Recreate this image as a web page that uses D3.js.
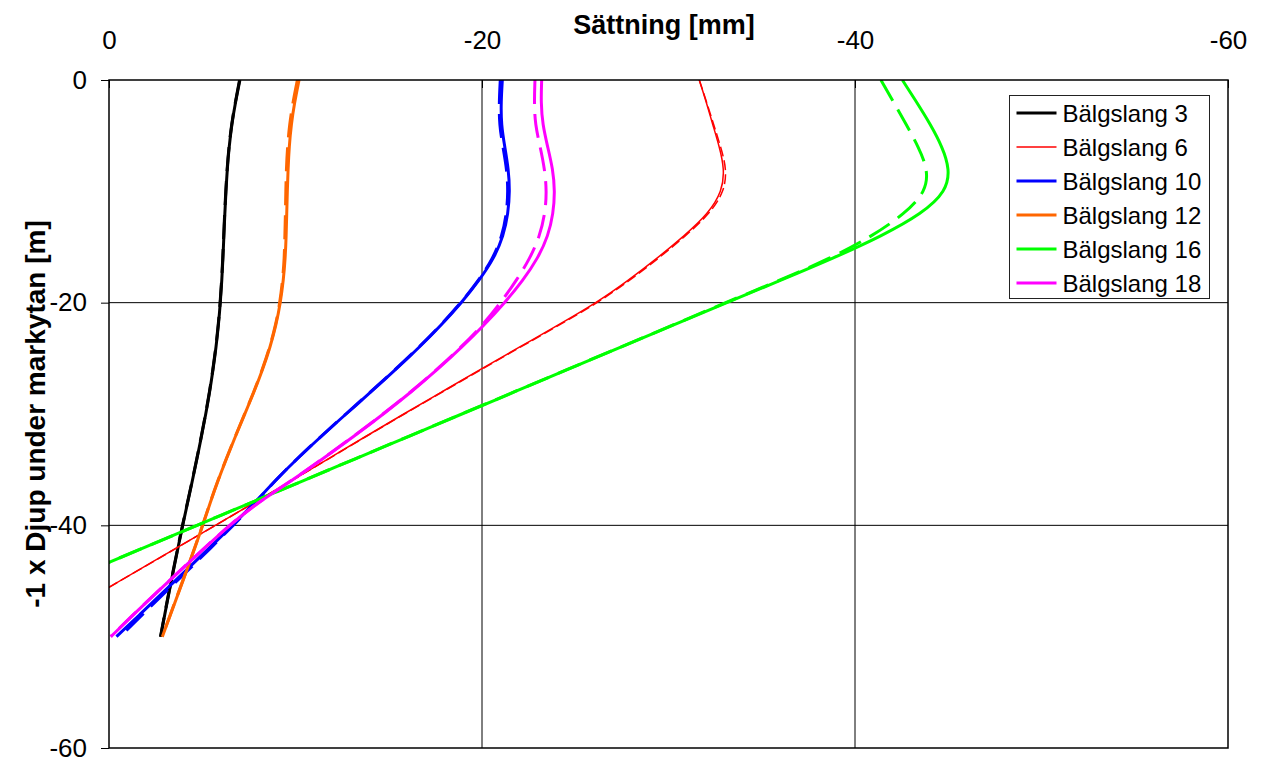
<!DOCTYPE html>
<html>
<head>
<meta charset="utf-8">
<script src="https://cdn.jsdelivr.net/npm/d3@7"></script>
<style>
  body { margin: 0; background: #fff; }
  svg { display: block; }
  text { font-family: "Liberation Sans", Arial, sans-serif; fill: #000; }
</style>
</head>
<body>
<svg id="chart" width="1265" height="762"></svg>
<script>
// Depth below ground surface (m, shown as -1 x depth)
const depths = [0, -2, -4, -6, -8, -10, -12, -14, -16, -18, -20, -22, -24, -26,
                -28, -30, -32, -34, -36, -38, -40, -42, -44, -46, -48, -50];

// Settlement [mm] per hose, two readings each (A = solid, B = dashed)
const b3A  = [-7.02, -6.78, -6.58, -6.44, -6.34, -6.27, -6.21, -6.16, -6.11, -6.05, -5.97, -5.87, -5.74, -5.58,
              -5.40, -5.19, -4.96, -4.72, -4.47, -4.21, -3.95, -3.70, -3.46, -3.22, -2.99, -2.77];
const b3B  = [-7.00, -6.77, -6.57, -6.43, -6.33, -6.26, -6.20, -6.15, -6.10, -6.04, -5.96, -5.86, -5.73, -5.57,
              -5.39, -5.18, -4.95, -4.71, -4.46, -4.20, -3.94, -3.69, -3.45, -3.21, -2.98, -2.76];

const b6A  = [-31.65, -32.03, -32.37, -32.73, -33.00, -32.88, -32.14, -30.85, -29.40, -27.85, -26.15, -24.10, -22.00, -19.92,
              -17.86, -15.80, -13.78, -11.78, -9.77, -7.75, -5.70, -3.65, -1.60, 0.45, null, null];
const b6B  = [-31.65, -32.05, -32.42, -32.80, -33.12, -33.00, -32.22, -30.92, -29.48, -27.92, -26.22, -24.16, -22.05, -19.96,
              -17.89, -15.83, -13.80, -11.80, -9.79, -7.76, -5.71, -3.66, -1.61, 0.45, null, null];

const b10A = [-21.09, -21.02, -21.03, -21.22, -21.42, -21.49, -21.40, -21.15, -20.65, -19.85, -18.90, -17.82, -16.64, -15.38,
              -14.06, -12.71, -11.38, -10.10, -8.90, -7.80, -6.62, -5.40, -4.16, -2.91, -1.66, -0.40];
const b10B = [-20.98, -20.92, -20.93, -21.12, -21.33, -21.40, -21.32, -21.08, -20.60, -19.82, -18.88, -17.80, -16.62, -15.36,
              -14.04, -12.70, -11.37, -10.09, -8.90, -7.82, -6.66, -5.48, -4.26, -3.02, -1.80, -0.60];

const b12A = [-10.19, -9.95, -9.77, -9.66, -9.60, -9.56, -9.53, -9.50, -9.45, -9.35, -9.19, -8.96, -8.64, -8.24,
              -7.78, -7.28, -6.78, -6.30, -5.84, -5.42, -5.03, -4.61, -4.18, -3.74, -3.30, -2.86];
const b12B = [-10.10, -9.86, -9.68, -9.57, -9.51, -9.48, -9.46, -9.43, -9.40, -9.31, -9.16, -8.94, -8.62, -8.22,
              -7.77, -7.27, -6.77, -6.29, -5.83, -5.41, -5.02, -4.60, -4.17, -3.73, -3.29, -2.85];

const b16A = [-42.54, -43.31, -44.05, -44.68, -45.08, -44.90, -43.60, -41.45, -38.85, -36.00, -33.12, -30.28, -27.44, -24.60,
              -21.76, -18.92, -16.08, -13.24, -10.40, -7.56, -4.72, -1.88, 0.96, null, null, null];
const b16B = [-41.39, -42.07, -42.75, -43.40, -43.90, -43.82, -42.67, -40.95, -38.70, -35.95, -33.05, -30.25, -27.42, -24.58,
              -21.75, -18.91, -16.07, -13.23, -10.40, -7.56, -4.72, -1.88, 0.96, null, null, null];

const b18A = [-23.20, -23.16, -23.25, -23.52, -23.80, -23.91, -23.82, -23.55, -23.00, -22.20, -21.22, -20.12, -18.92, -17.62,
              -16.22, -14.72, -13.14, -11.49, -9.79, -7.95, -6.45, -5.15, -3.86, -2.58, -1.32, -0.10];
const b18B = [-22.84, -22.80, -22.85, -23.12, -23.36, -23.47, -23.38, -23.10, -22.58, -21.85, -21.00, -20.05, -18.88, -17.59,
              -16.20, -14.70, -13.12, -11.47, -9.78, -7.94, -6.44, -5.14, -3.85, -2.57, -1.31, -0.09];

const seriesNames  = ["Bälgslang 3", "Bälgslang 6", "Bälgslang 10", "Bälgslang 12", "Bälgslang 16", "Bälgslang 18"];
const seriesColors = ["#000000", "#ff0000", "#0000ff", "#ff6600", "#00ff00", "#ff00ff"];
const seriesWidths = [3, 1.5, 3, 3, 3, 3];
const readingsA = [b3A, b6A, b10A, b12A, b16A, b18A];
const readingsB = [b3B, b6B, b10B, b12B, b16B, b18B];

const xTicks = [0, -20, -40, -60];
const yTicks = [0, -20, -40, -60];
const xTitle = "Sättning [mm]";
const yTitle = "-1 x Djup under markytan [m]";

// ---- layout ----
const W = 1265, H = 762;
const plot = { left: 109, top: 80, right: 1228, bottom: 748 };

const svg = d3.select("#chart");
const x = d3.scaleLinear().domain([0, -60]).range([plot.left, plot.right]);
const y = d3.scaleLinear().domain([0, -60]).range([plot.top, plot.bottom]);

svg.append("rect").attr("width", W).attr("height", H).attr("fill", "#fff");

svg.append("defs").append("clipPath").attr("id", "plotClip")
  .append("rect")
  .attr("x", plot.left).attr("y", plot.top)
  .attr("width", plot.right - plot.left).attr("height", plot.bottom - plot.top);

// grid lines
const grid = svg.append("g").attr("stroke", "#000").attr("stroke-width", 1);
grid.selectAll("line.gx").data(xTicks.filter(t => t !== 0 && t !== -60)).join("line")
  .attr("x1", d => x(d)).attr("x2", d => x(d))
  .attr("y1", plot.top).attr("y2", plot.bottom);
grid.selectAll("line.gy").data(yTicks.filter(t => t !== 0 && t !== -60)).join("line")
  .attr("y1", d => y(d)).attr("y2", d => y(d))
  .attr("x1", plot.left).attr("x2", plot.right);

// axes (plain hyphen-minus in tick labels)
const fmt = d => String(d);
const xAxis = d3.axisTop(x).tickValues(xTicks).tickSize(-8).tickPadding(31).tickFormat(fmt);
const gx = svg.append("g").attr("transform", `translate(0,${plot.top})`).call(xAxis);
gx.select(".domain").remove();
gx.selectAll(".tick line").attr("stroke", "#000");
gx.selectAll(".tick text").attr("font-size", 26).attr("font-family", "Liberation Sans, Arial, sans-serif");

const yAxis = d3.axisLeft(y).tickValues(yTicks).tickSize(8).tickPadding(14).tickFormat(fmt);
const gy = svg.append("g").attr("transform", `translate(${plot.left},0)`).call(yAxis);
gy.select(".domain").remove();
gy.selectAll(".tick line").attr("stroke", "#000");
gy.selectAll(".tick text").attr("font-size", 26).attr("font-family", "Liberation Sans, Arial, sans-serif");

// series
const lineGen = d3.line()
  .defined(p => p.v !== null)
  .x(p => x(p.v))
  .y(p => y(p.d))
  .curve(d3.curveBasis);

const toPts = arr => depths.map((d, i) => ({ d, v: arr[i] }));

const lines = svg.append("g").attr("clip-path", "url(#plotClip)");
seriesNames.forEach((name, i) => {
  const w = seriesWidths[i];
  lines.append("path")
    .attr("d", lineGen(toPts(readingsA[i])))
    .attr("fill", "none").attr("stroke", seriesColors[i]).attr("stroke-width", w)
    .attr("stroke-linejoin", "round");
  lines.append("path")
    .attr("d", lineGen(toPts(readingsB[i])))
    .attr("fill", "none").attr("stroke", seriesColors[i]).attr("stroke-width", w)
    .attr("stroke-dasharray", w < 2 ? "10,4" : "24,10");
});

// plot frame
svg.append("rect")
  .attr("x", plot.left).attr("y", plot.top)
  .attr("width", plot.right - plot.left).attr("height", plot.bottom - plot.top)
  .attr("fill", "none").attr("stroke", "#000").attr("stroke-width", 1.5);

// titles
svg.append("text")
  .attr("x", 664).attr("y", 34)
  .attr("text-anchor", "middle").attr("font-size", 27).attr("font-weight", "bold")
  .text(xTitle);
svg.append("text")
  .attr("transform", `translate(45,${(plot.top + plot.bottom) / 2}) rotate(-90)`)
  .attr("text-anchor", "middle").attr("font-size", 28).attr("font-weight", "bold")
  .text(yTitle);

// legend
const lg = { x: 1009.5, y: 95.5, w: 200, h: 203, row: 34 };
const legend = svg.append("g");
legend.append("rect")
  .attr("x", lg.x).attr("y", lg.y).attr("width", lg.w).attr("height", lg.h)
  .attr("fill", "#fff").attr("stroke", "#222").attr("stroke-width", 1);
const items = legend.selectAll("g.item").data(seriesNames).join("g")
  .attr("transform", (d, i) => `translate(${lg.x},${lg.y + 17.5 + i * lg.row})`);
items.append("line")
  .attr("x1", 7).attr("x2", 47).attr("y1", 0).attr("y2", 0)
  .attr("stroke", (d, i) => seriesColors[i])
  .attr("stroke-width", (d, i) => seriesWidths[i]);
items.append("text")
  .attr("x", 53).attr("y", 8.5).attr("font-size", 24)
  .text(d => d);
</script>
</body>
</html>
